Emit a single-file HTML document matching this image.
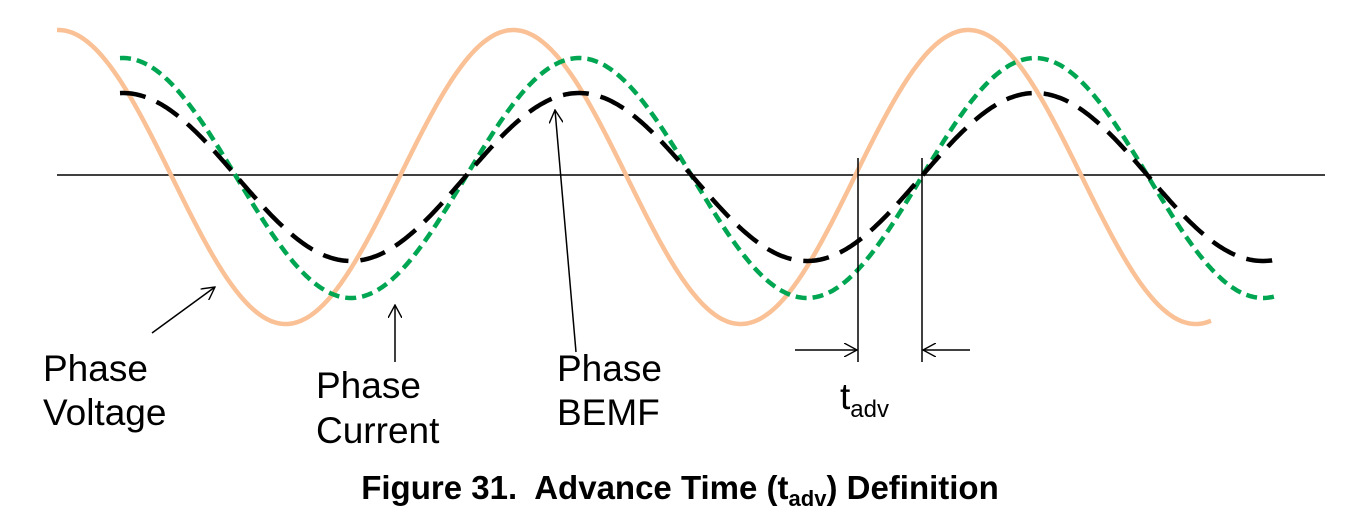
<!DOCTYPE html>
<html><head><meta charset="utf-8"><style>
html,body{margin:0;padding:0;background:#fff;}
svg{display:block;}
text{font-family:"Liberation Sans",Arial,sans-serif;fill:#000;}
</style></head><body>
<svg id="s" width="1358" height="525" viewBox="0 0 1358 525" xmlns="http://www.w3.org/2000/svg">
<defs>
<marker id="ah" markerWidth="14" markerHeight="14" refX="13" refY="7" orient="auto" markerUnits="userSpaceOnUse">
<path d="M0,0 L13,7 L0,14" fill="none" stroke="#000" stroke-width="1.4"/>
</marker>
</defs>
<line x1="57" y1="175" x2="1325" y2="175" stroke="#000" stroke-width="1.5"/>
<path id="vol" fill="none" stroke="#F9C195" stroke-width="4.5"/>
<path id="cur" fill="none" stroke="#00A651" stroke-width="4.5" stroke-dasharray="11,6"/>
<path id="bemf" fill="none" stroke="#000" stroke-width="4.5" stroke-dasharray="26,12"/>
<line x1="152" y1="333" x2="215" y2="287" stroke="#000" stroke-width="1.5" marker-end="url(#ah)"/>
<line x1="395" y1="362" x2="395" y2="305" stroke="#000" stroke-width="1.5" marker-end="url(#ah)"/>
<line x1="576" y1="352" x2="555" y2="110" stroke="#000" stroke-width="1.5" marker-end="url(#ah)"/>
<line x1="858" y1="158" x2="858" y2="362" stroke="#000" stroke-width="1.5"/>
<line x1="922" y1="158" x2="922" y2="362" stroke="#000" stroke-width="1.5"/>
<line x1="795" y1="350" x2="857" y2="350" stroke="#000" stroke-width="1.5" marker-end="url(#ah)"/>
<line x1="970" y1="350" x2="923" y2="350" stroke="#000" stroke-width="1.5" marker-end="url(#ah)"/>
<text x="43" y="381" font-size="37">Phase</text>
<text x="43" y="425" font-size="37">Voltage</text>
<text x="316" y="398" font-size="37">Phase</text>
<text x="316" y="443" font-size="37">Current</text>
<text x="557" y="381" font-size="37">Phase</text>
<text x="557" y="425" font-size="37">BEMF</text>
<text x="840" y="409" font-size="37">t<tspan font-size="24" dy="8">adv</tspan></text>
<text x="680" y="499" font-size="33" font-weight="bold" text-anchor="middle" xml:space="preserve">Figure 31.  Advance Time (t<tspan font-size="22" dy="7">adv</tspan><tspan dy="-7">) Definition</tspan></text>
</svg>
<script>
function mk(id,x0,x1,cross,per,amp,cy){
  var d="";
  for(var x=x0;x<=x1;x+=2){
    var y=cy+amp*Math.sin(2*Math.PI*(x-cross)/per);
    d+=(x==x0?"M":"L")+x+","+y.toFixed(1)+" ";
  }
  document.getElementById(id).setAttribute("d",d);
}
mk("vol",57,1211,172,455,147,177);
mk("cur",120,1276,237,456,120,178);
mk("bemf",120,1276,237,456,84,177);
</script>
</body></html>
